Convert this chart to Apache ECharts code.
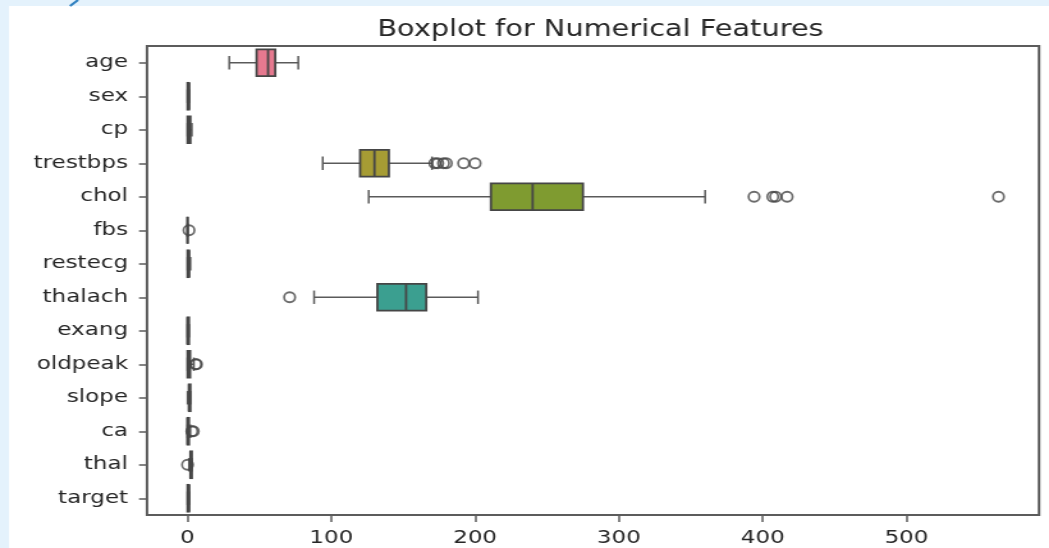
<!DOCTYPE html>
<html>
<head>
<meta charset="utf-8">
<title>Boxplot for Numerical Features</title>
<script src="https://cdn.jsdelivr.net/npm/echarts@6.0.0/dist/echarts.min.js"></script>
<style>
  html, body { margin: 0; padding: 0; background: #e4f2fc; overflow: hidden; }
  /* the reference picture is stretched sideways, so the chart is drawn narrow and widened */
  #chart { width: 820px; height: 548px; transform: scaleX(1.2793); transform-origin: 0 0; }
</style>
</head>
<body>
<div id="chart"></div>
<script>
// features, top to bottom
const features = ['age', 'sex', 'cp', 'trestbps', 'chol', 'fbs', 'restecg', 'thalach', 'exang', 'oldpeak', 'slope', 'ca', 'thal', 'target'];
// five-number summaries (whisker ends, quartiles, median)
const whiskerLow  = [29, 0, 0, 94, 126, 0, 0, 88, 0, 0, 0, 0, 1, 0];
const q1          = [48, 0, 0, 120, 211, 0, 0, 132, 0, 0, 1, 0, 2, 0];
const median      = [56, 1, 1, 130, 240, 0, 1, 152, 0, 0.8, 1, 0, 2, 1];
const q3          = [61, 1, 2, 140, 275, 0, 1, 166, 1, 1.8, 2, 1, 3, 1];
const whiskerHigh = [77, 1, 3, 170, 360, 0, 2, 202, 1, 4.4, 2, 2, 3, 1];
// points beyond the whiskers
const outliers = [[], [], [], [172, 174, 178, 180, 192, 200], [394, 407, 409, 417, 564], [1], [], [71], [], [5.6, 6.2], [], [3, 4], [0], []];
const xTicks = [0, 100, 200, 300, 400, 500];

// seaborn husl palette, desaturated
const boxColors = ['#e6798f', '#d8885a', '#c29446', '#a69c34', '#7f9b30', '#4fa845', '#3da57a',
                   '#3b9f90', '#3ea0a8', '#419dbd', '#5b96d5', '#9c89d6', '#cf77cf', '#e072b0'];
const lineColor = '#464646';
const textColor = '#262626';
const sx = 1.2793; // horizontal stretch of the page

const boxData = features.map((f, i) => [i, whiskerLow[i], q1[i], median[i], q3[i], whiskerHigh[i]]);
const outlierData = [];
outliers.forEach((vals, i) => vals.forEach(v => outlierData.push([v, i])));

// 画一个箱体：须线、端帽、箱子、中位线
function renderBox(params, api) {
    const i = api.value(0);
    const band = api.size([0, 1])[1];
    const half = band * 0.4;
    const cap = half * 0.5;
    const y = api.coord([0, i])[1];
    const xLow = api.coord([api.value(1), i])[0];
    const xQ1 = api.coord([api.value(2), i])[0];
    const xMed = api.coord([api.value(3), i])[0];
    const xQ3 = api.coord([api.value(4), i])[0];
    const xHigh = api.coord([api.value(5), i])[0];
    const ls = { stroke: '#5a5a5a', lineWidth: 1.5 };
    return {
        type: 'group',
        children: [
            { type: 'line', shape: { x1: xLow, y1: y, x2: xQ1, y2: y }, style: ls },
            { type: 'line', shape: { x1: xQ3, y1: y, x2: xHigh, y2: y }, style: ls },
            { type: 'line', shape: { x1: xLow, y1: y - cap, x2: xLow, y2: y + cap }, style: ls },
            { type: 'line', shape: { x1: xHigh, y1: y - cap, x2: xHigh, y2: y + cap }, style: ls },
            { type: 'rect', shape: { x: xQ1, y: y - half, width: xQ3 - xQ1, height: half * 2 },
              style: { fill: boxColors[i], stroke: lineColor, lineWidth: 1.8 } },
            { type: 'line', shape: { x1: xMed, y1: y - half, x2: xMed, y2: y + half }, style: { stroke: lineColor, lineWidth: 1.8 } }
        ]
    };
}

const chart = echarts.init(document.getElementById('chart'));
chart.setOption({
    backgroundColor: '#e4f2fc',
    animation: false,
    textStyle: { fontFamily: 'DejaVu Sans' },
    graphic: [
        { type: 'rect', shape: { x: 9 / sx, y: 6, width: 1040 / sx, height: 542 }, style: { fill: '#ffffff' }, z: -10 },
        { type: 'line', shape: { x1: 70 / sx, y1: 6, x2: 78 / sx, y2: 0 }, style: { stroke: '#2d7fbf', lineWidth: 2 }, z: -9 }
    ],
    title: {
        text: 'Boxplot for Numerical Features',
        left: 594 / sx, top: 14, textAlign: 'center',
        textStyle: { fontFamily: 'DejaVu Sans', fontSize: 22.5, fontWeight: 'normal', color: textColor }
    },
    grid: {
        left: 147 / sx, right: 10 / sx, top: 46, bottom: 33,
        show: true, borderColor: '#5c5c5c', borderWidth: 2, backgroundColor: 'transparent'
    },
    xAxis: {
        type: 'value', min: -28.2, max: 592.2,
        axisLine: { show: false },
        splitLine: { show: false },
        axisTick: { show: true, length: 7, lineStyle: { color: '#5c5c5c', width: 1.5 }, customValues: xTicks },
        axisLabel: { customValues: xTicks, fontSize: 18, color: textColor, margin: 14 }
    },
    yAxis: {
        type: 'category', data: features, inverse: true,
        axisLine: { show: false, onZero: false },
        axisTick: { show: true, alignWithLabel: true, length: 8 / sx, lineStyle: { color: '#5c5c5c', width: 1.5 } },
        axisLabel: { fontSize: 18, color: textColor, margin: 19 / sx }
    },
    series: [
        {
            type: 'custom', renderItem: renderBox, data: boxData,
            encode: { x: [1, 2, 3, 4, 5], y: 0 }
        },
        {
            type: 'scatter', data: outlierData, symbol: 'circle', symbolSize: [11 / sx, 10],
            itemStyle: { color: 'rgba(0,0,0,0)', borderColor: lineColor, borderWidth: 1.8 }
        }
    ]
});
</script>
</body>
</html>
